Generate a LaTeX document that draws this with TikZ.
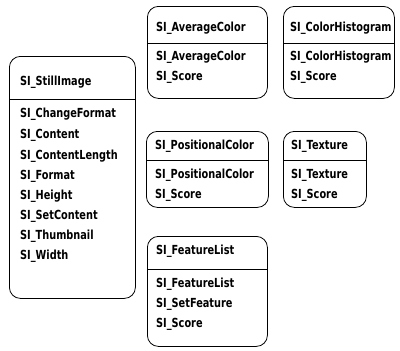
\documentclass[tikz,border=0pt]{standalone}
\usepackage{fontspec}
\setmainfont{DejaVu Sans}[FakeStretch=0.78]
\begin{document}
\begin{tikzpicture}[x=1pt,y=-1pt,
  classbox/.style={draw=black, line width=0.8pt, rounded corners=11pt,
    anchor=north west, inner sep=0pt},
  lbl/.style={anchor=west, inner sep=0pt, font=\bfseries\fontsize{12.5}{14}\selectfont},
  sep/.style={draw=black, line width=0.8pt}]
\fill[white] (0,0) rectangle (400,351);
\useasboundingbox (0,0) rectangle (400,351);

% SI_StillImage
\node[classbox, minimum width=126pt, minimum height=242pt] (still) at (9,56) {};
\coordinate (stillsep) at (0,99);
\draw[sep] (still.west |- stillsep) -- (still.east |- stillsep);
\node[lbl] (s0) at (20,82) {SI\_StillImage};
\node[lbl] (s1) at (20,114) {SI\_ChangeFormat};
\node[lbl] (s2) at (20,135) {SI\_Content};
\node[lbl] (s3) at (20,156) {SI\_ContentLength};
\node[lbl] (s4) at (20,176) {SI\_Format};
\node[lbl] (s5) at (20,196) {SI\_Height};
\node[lbl] (s6) at (20,216) {SI\_SetContent};
\node[lbl] (s7) at (20,236) {SI\_Thumbnail};
\node[lbl] (s8) at (20,256) {SI\_Width};

% SI_AverageColor
\node[classbox, minimum width=120pt, minimum height=92pt] (avg) at (147,6) {};
\coordinate (avgsep) at (0,43);
\draw[sep] (avg.west |- avgsep) -- (avg.east |- avgsep);
\node[lbl] (a0) at (156,28) {SI\_AverageColor};
\node[lbl] (a1) at (156,57) {SI\_AverageColor};
\node[lbl] (a2) at (156,77) {SI\_Score};

% SI_ColorHistogram
\node[classbox, minimum width=111pt, minimum height=92pt] (hist) at (283,6) {};
\coordinate (histsep) at (0,43);
\draw[sep] (hist.west |- histsep) -- (hist.east |- histsep);
\node[lbl] (h0) at (290,28) {SI\_ColorHistogram};
\node[lbl] (h1) at (290,57) {SI\_ColorHistogram};
\node[lbl] (h2) at (290,77) {SI\_Score};

% SI_PositionalColor
\node[classbox, minimum width=122pt, minimum height=76pt] (pos) at (146,131) {};
\coordinate (possep) at (0,160);
\draw[sep] (pos.west |- possep) -- (pos.east |- possep);
\node[lbl] (p0) at (155,146) {SI\_PositionalColor};
\node[lbl] (p1) at (155,175) {SI\_PositionalColor};
\node[lbl] (p2) at (155,195) {SI\_Score};

% SI_Texture
\node[classbox, minimum width=83pt, minimum height=76pt] (tex) at (283,131) {};
\coordinate (texsep) at (0,160);
\draw[sep] (tex.west |- texsep) -- (tex.east |- texsep);
\node[lbl] (t0) at (291,146) {SI\_Texture};
\node[lbl] (t1) at (291,175) {SI\_Texture};
\node[lbl] (t2) at (291,195) {SI\_Score};

% SI_FeatureList
\node[classbox, minimum width=120pt, minimum height=110pt] (feat) at (147,236) {};
\coordinate (featsep) at (0,269);
\draw[sep] (feat.west |- featsep) -- (feat.east |- featsep);
\node[lbl] (f0) at (156,251) {SI\_FeatureList};
\node[lbl] (f1) at (156,284) {SI\_FeatureList};
\node[lbl] (f2) at (156,304) {SI\_SetFeature};
\node[lbl] (f3) at (156,324) {SI\_Score};
\end{tikzpicture}
\end{document}
